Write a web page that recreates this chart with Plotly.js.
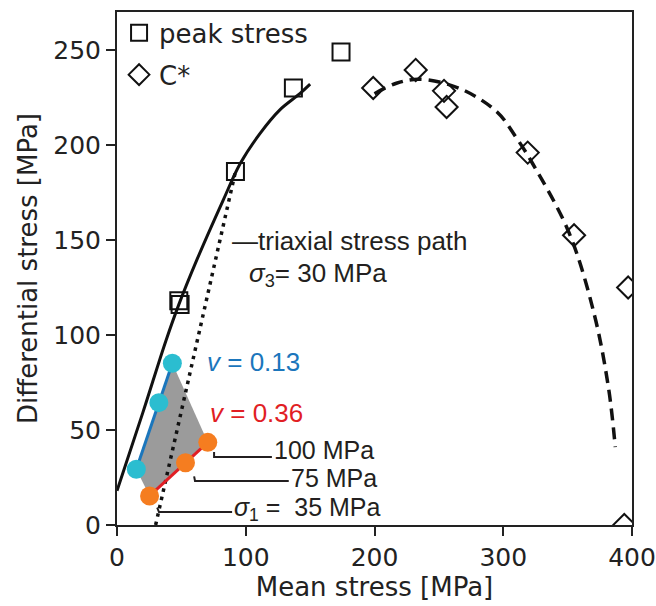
<!DOCTYPE html>
<html><head><meta charset="utf-8">
<script src="https://cdn.plot.ly/plotly-3.0.1.min.js"></script>
<style>body{margin:0;padding:0;background:#fff}</style>
</head><body>
<div id="chart" style="width:656px;height:606px"></div>
<script>
// Peak stress (open squares)
const peakX = [48, 49, 92, 137, 174];
const peakY = [118, 116, 186, 230, 249];
// C* (open diamonds)
const cstarX = [199, 232, 254, 256, 319, 355, 397, 394];
const cstarY = [230, 239.5, 228.5, 220, 196, 152.5, 125, 0];
// Solid envelope through peak stress
const envX = [0, 20, 38, 48, 62, 82.5, 95.5, 111, 126.5, 142, 150];
const envY = [18, 59, 97, 116, 139.5, 171, 190, 206, 218.5, 227, 232];
// Dashed cap through C*
const capX = [200, 217, 235, 266, 295, 310, 323, 351, 371, 382, 387];
const capY = [227, 232.5, 234.6, 229.8, 217.5, 204, 190, 154, 110, 71, 41];
// Triaxial stress path (sigma3 = 30 MPa)
const pathX = [30, 92];
const pathY = [0, 186];
// nu = 0.13 (cyan points, blue line)
const nuLowX = [15, 32.5, 43];
const nuLowY = [29.3, 64.4, 85.1];
// nu = 0.36 (orange points, red line)
const nuHighX = [25.3, 53.2, 70.5];
const nuHighY = [15.3, 32.8, 43.5];
// gray band between the two
const bandX = [nuLowX[0], nuLowX[2], nuHighX[2], nuHighX[0], nuLowX[0]];
const bandY = [nuLowY[0], nuLowY[2], nuHighY[2], nuHighY[0], nuLowY[0]];

const traces = [
  {x: bandX, y: bandY, mode: 'lines', fill: 'toself', fillcolor: '#9b9b9b', line: {width: 0, color: '#9b9b9b'}, showlegend: false, hoverinfo: 'skip'},
  {x: pathX, y: pathY, mode: 'lines', line: {color: '#111', width: 3.5, dash: '3.5px,5px'}, showlegend: false},
  {x: envX, y: envY, mode: 'lines', line: {color: '#111', width: 3, shape: 'spline'}, showlegend: false},
  {x: capX, y: capY, mode: 'lines', line: {color: '#111', width: 3.5, shape: 'spline', dash: '12px,7px'}, showlegend: false},
  {x: nuLowX, y: nuLowY, mode: 'lines', line: {color: '#1b76bc', width: 3}, showlegend: false},
  {x: nuHighX, y: nuHighY, mode: 'lines', line: {color: '#e11e24', width: 3}, showlegend: false},
  {x: nuLowX, y: nuLowY, mode: 'markers', marker: {color: '#2bbdd0', size: 19}, showlegend: false},
  {x: nuHighX, y: nuHighY, mode: 'markers', marker: {color: '#f57d20', size: 19}, showlegend: false},
  {x: peakX, y: peakY, mode: 'markers', name: 'peak stress', legendgroup: 'a', marker: {symbol: 'square-open', size: 17, color: '#111', line: {width: 2, color: '#111'}}},
  {x: cstarX, y: cstarY, mode: 'markers', name: 'C*', legendgroup: 'b', marker: {symbol: 'diamond-open', size: 17, color: '#111', line: {width: 2, color: '#111'}}}
];

const af = {family: 'Liberation Sans, Arial, sans-serif', size: 26, color: '#231f20'};
const af2 = {family: 'Liberation Sans, Arial, sans-serif', size: 25, color: '#231f20'};
const annotations = [
  {x: 87.5, y: 149.5, text: '—triaxial stress path', xanchor: 'left', yanchor: 'middle', showarrow: false, font: af},
  {x: 101, y: 132, text: '<i>σ</i><sub>3</sub>= 30 MPa', xanchor: 'left', yanchor: 'middle', showarrow: false, font: af},
  {x: 68.6, y: 85.8, text: '<i>v</i> = 0.13', xanchor: 'left', yanchor: 'middle', showarrow: false, font: Object.assign({}, af, {color: '#1b76bc'})},
  {x: 70.8, y: 58.9, text: '<i>v</i> = 0.36', xanchor: 'left', yanchor: 'middle', showarrow: false, font: Object.assign({}, af, {color: '#e11e24'})},
  {x: 120.5, y: 39.6, text: '100 MPa', xanchor: 'left', yanchor: 'middle', showarrow: false, font: af2},
  {x: 133.2, y: 24.6, text: '75 MPa', xanchor: 'left', yanchor: 'middle', showarrow: false, font: af2},
  {x: 89.6, y: 8.6, text: '<i>σ</i><sub>1</sub> =  35 MPa', xanchor: 'left', yanchor: 'middle', showarrow: false, font: af2}
];
const lc = {color: '#231f20', width: 2};
const shapes = [
  {type: 'path', path: 'M 75.4 38.4 L 75.4 35.8 L 120.3 35.8', line: lc},
  {type: 'path', path: 'M 59.9 25.6 L 60.6 23.2 L 133.4 23.2', line: lc},
  {type: 'path', path: 'M 31.2 9.2 L 32.6 6.8 L 89.4 6.8', line: lc}
];

const tf = {family: 'DejaVu Sans, sans-serif', size: 25, color: '#222'};
const ttf = {family: 'DejaVu Sans, sans-serif', size: 26, color: '#222'};
const layout = {
  width: 656, height: 606,
  margin: {l: 117, r: 24, t: 12, b: 81, autoexpand: false},
  paper_bgcolor: '#fff', plot_bgcolor: '#fff',
  showlegend: true,
  legend: {x: 0.004, y: 1.005, xanchor: 'left', yanchor: 'top', bgcolor: 'rgba(0,0,0,0)', font: {family: 'DejaVu Sans, sans-serif', size: 26, color: '#222'}, tracegroupgap: 5},
  xaxis: {range: [0, 400], dtick: 100, tick0: 0, ticks: 'outside', ticklen: 9, tickwidth: 2, tickcolor: '#222',
    showline: true, linecolor: '#222', linewidth: 2, mirror: true, showgrid: false, zeroline: false,
    tickfont: tf, title: {text: 'Mean stress [MPa]', font: ttf, standoff: 3}},
  yaxis: {range: [0, 270], dtick: 50, tick0: 0, ticks: 'outside', ticklen: 9, tickwidth: 2, tickcolor: '#222',
    showline: true, linecolor: '#222', linewidth: 2, mirror: true, showgrid: false, zeroline: false,
    tickfont: tf, title: {text: 'Differential stress [MPa]', font: ttf, standoff: 8}},
  annotations: annotations,
  shapes: shapes
};
Plotly.newPlot('chart', traces, layout, {displayModeBar: false, staticPlot: true});
</script>
</body></html>
